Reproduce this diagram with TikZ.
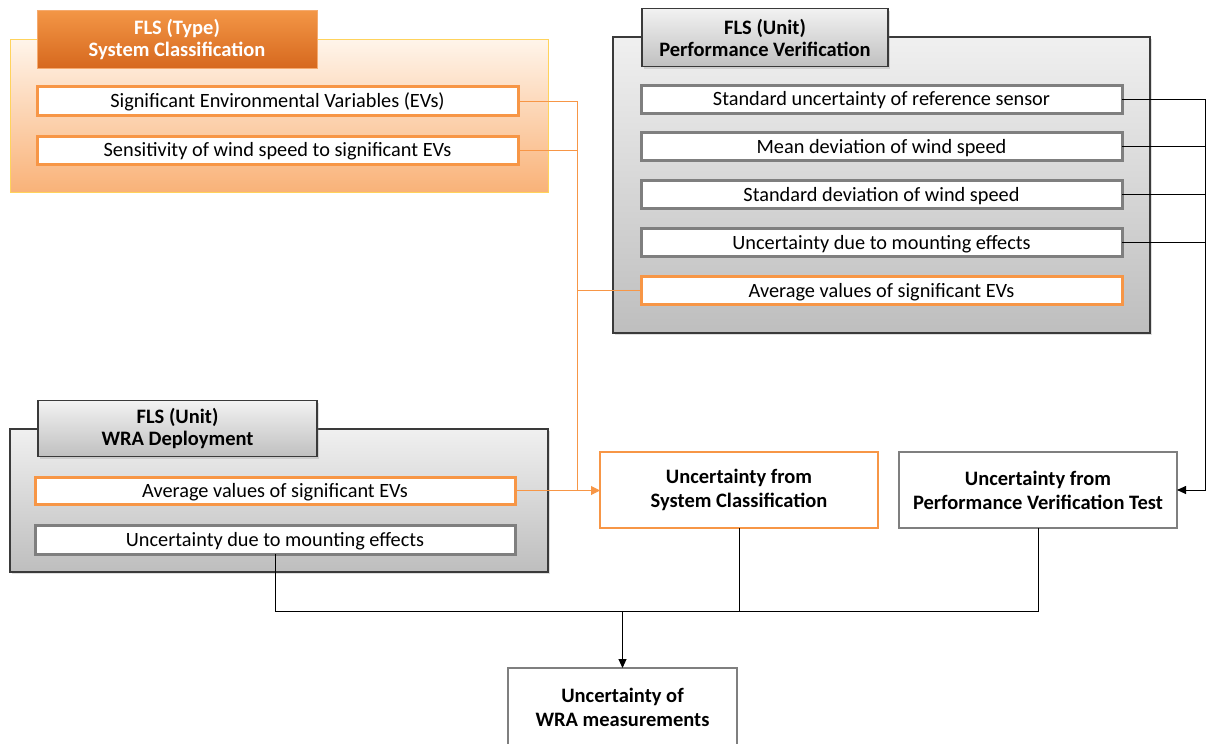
\documentclass[tikz,border=0pt]{standalone}
\usepackage{fontspec}
\setmainfont{Carlito}
\usetikzlibrary{arrows.meta,shadows}
\definecolor{orline}{HTML}{F79646}
\definecolor{orgold}{HTML}{FFD35C}
\definecolor{grline}{HTML}{7F7F7F}
\definecolor{dk}{HTML}{3A3A3A}
\tikzset{
  box/.style={rectangle, inner sep=0pt, outer sep=0pt, align=center},
  orgroup/.style={box, top color=orange!8!white, bottom color={rgb,255:red,249;green,178;blue,120}, draw=orgold, line width=1pt},
  orhead/.style={box, top color={rgb,255:red,243;green,150;blue,70}, bottom color={rgb,255:red,214;green,104;blue,30}, draw={rgb,255:red,245;green,170;blue,110}, line width=1pt, text=white, font=\fontsize{20.5}{22}\selectfont\bfseries},
  grgroup/.style={box, top color={rgb,255:red,240;green,240;blue,240}, bottom color={rgb,255:red,190;green,190;blue,190}, draw=dk, line width=1.3pt, drop shadow={shadow xshift=2pt, shadow yshift=-2pt, opacity=0.25}},
  grhead/.style={box, top color={rgb,255:red,242;green,242;blue,242}, bottom color={rgb,255:red,192;green,192;blue,192}, draw=dk, line width=1.3pt, font=\fontsize{20.5}{22}\selectfont\bfseries, drop shadow={shadow xshift=2pt, shadow yshift=-2pt, opacity=0.25}},
  item/.style={box, fill=white, draw=grline, line width=3pt, font=\fontsize{20.3}{22}\selectfont, text height=17pt, text depth=4pt},
  oitem/.style={item, draw=orline},
  result/.style={box, fill=white, draw=grline, line width=2pt, font=\fontsize{20.5}{24}\selectfont\bfseries},
  oresult/.style={result, draw=orline},
  oline/.style={draw=orline, line width=1pt},
  kline/.style={draw=black, line width=0.9pt},
  otip/.style={-{Triangle[length=9pt,width=9pt]}},
}
\begin{document}
\begin{tikzpicture}[x=1pt,y=-1pt]
\useasboundingbox (0,0) rectangle (1207,744);
\clip (0,0) rectangle (1207,744);
% System classification group
\node[orgroup, minimum width=538, minimum height=153] (scg) at (279,115.5) {};
\node[orhead, minimum width=280, minimum height=58] (sch) at (177,39.5) {FLS (Type)\\System Classification};
\node[oitem, minimum width=481, minimum height=29] (ev1) at (277.5,101) {Significant Environmental Variables (EVs)};
\node[oitem, minimum width=481, minimum height=28] (ev2) at (277.5,150) {Sensitivity of wind speed to significant EVs};
% Performance verification group
\node[grgroup, minimum width=537, minimum height=296] (pvg) at (881.5,185) {};
\node[grhead, minimum width=246, minimum height=58] (pvh) at (765,37.5) {FLS (Unit)\\Performance Verification};
\node[item, minimum width=481, minimum height=28] (pv1) at (881.5,99) {Standard uncertainty of reference sensor};
\node[item, minimum width=481, minimum height=28] (pv2) at (881.5,146.5) {Mean deviation of wind speed};
\node[item, minimum width=481, minimum height=28] (pv3) at (881.5,194.5) {Standard deviation of wind speed};
\node[item, minimum width=481, minimum height=28] (pv4) at (881.5,242.5) {Uncertainty due to mounting effects};
\node[oitem, minimum width=481, minimum height=28] (pv5) at (881.5,290.5) {Average values of significant EVs};
% WRA deployment group
\node[grgroup, minimum width=538, minimum height=143] (wrg) at (279,500.5) {};
\node[grhead, minimum width=279, minimum height=56] (wrh) at (177.5,428.5) {FLS (Unit)\\WRA Deployment};
\node[oitem, minimum width=480, minimum height=27] (wr1) at (275,490.5) {Average values of significant EVs};
\node[item, minimum width=480, minimum height=29] (wr2) at (275,539.5) {Uncertainty due to mounting effects};
% Results
\node[oresult, minimum width=278, minimum height=76] (sc) at (739,490) {Uncertainty from\\System Classification};
\node[result, minimum width=278, minimum height=76] (pvt) at (1038,490) {Uncertainty from\\Performance Verification Test};
\node[result, minimum width=229, minimum height=96] (wra) at (622.5,716) {};
\node[font=\fontsize{20.5}{24}\selectfont\bfseries, align=center] (wrat) at (622.5,707) {Uncertainty of\\WRA measurements};
% junctions
\coordinate (oj) at (577,490.5);
\coordinate (rj) at (1205.5,490);
\coordinate (bj) at (622.5,611);
% orange connectors
\draw[oline] (ev1.east) -| (oj);
\draw[oline] (ev2.east) -- (ev2.east -| oj);
\draw[oline] (pv5.west) -- (pv5.west -| oj);
\draw[oline, otip] (wr1.east) -- (sc.west |- wr1.east);
% black connectors
\draw[kline] (pv1.east) -| (rj);
\draw[kline] (pv2.east) -- (pv2.east -| rj);
\draw[kline] (pv3.east) -- (pv3.east -| rj);
\draw[kline] (pv4.east) -- (pv4.east -| rj);
\draw[kline, -{Triangle[length=9pt,width=8pt]}] (rj) -- (pvt.east);
\draw[kline] (wr2.south) |- (pvt.south |- bj) -- (pvt.south);
\draw[kline] (sc.south) -- (sc.south |- bj);
\draw[kline, -{Triangle[length=9pt,width=8pt]}] (bj) -- (wra.north);
\end{tikzpicture}
\end{document}
